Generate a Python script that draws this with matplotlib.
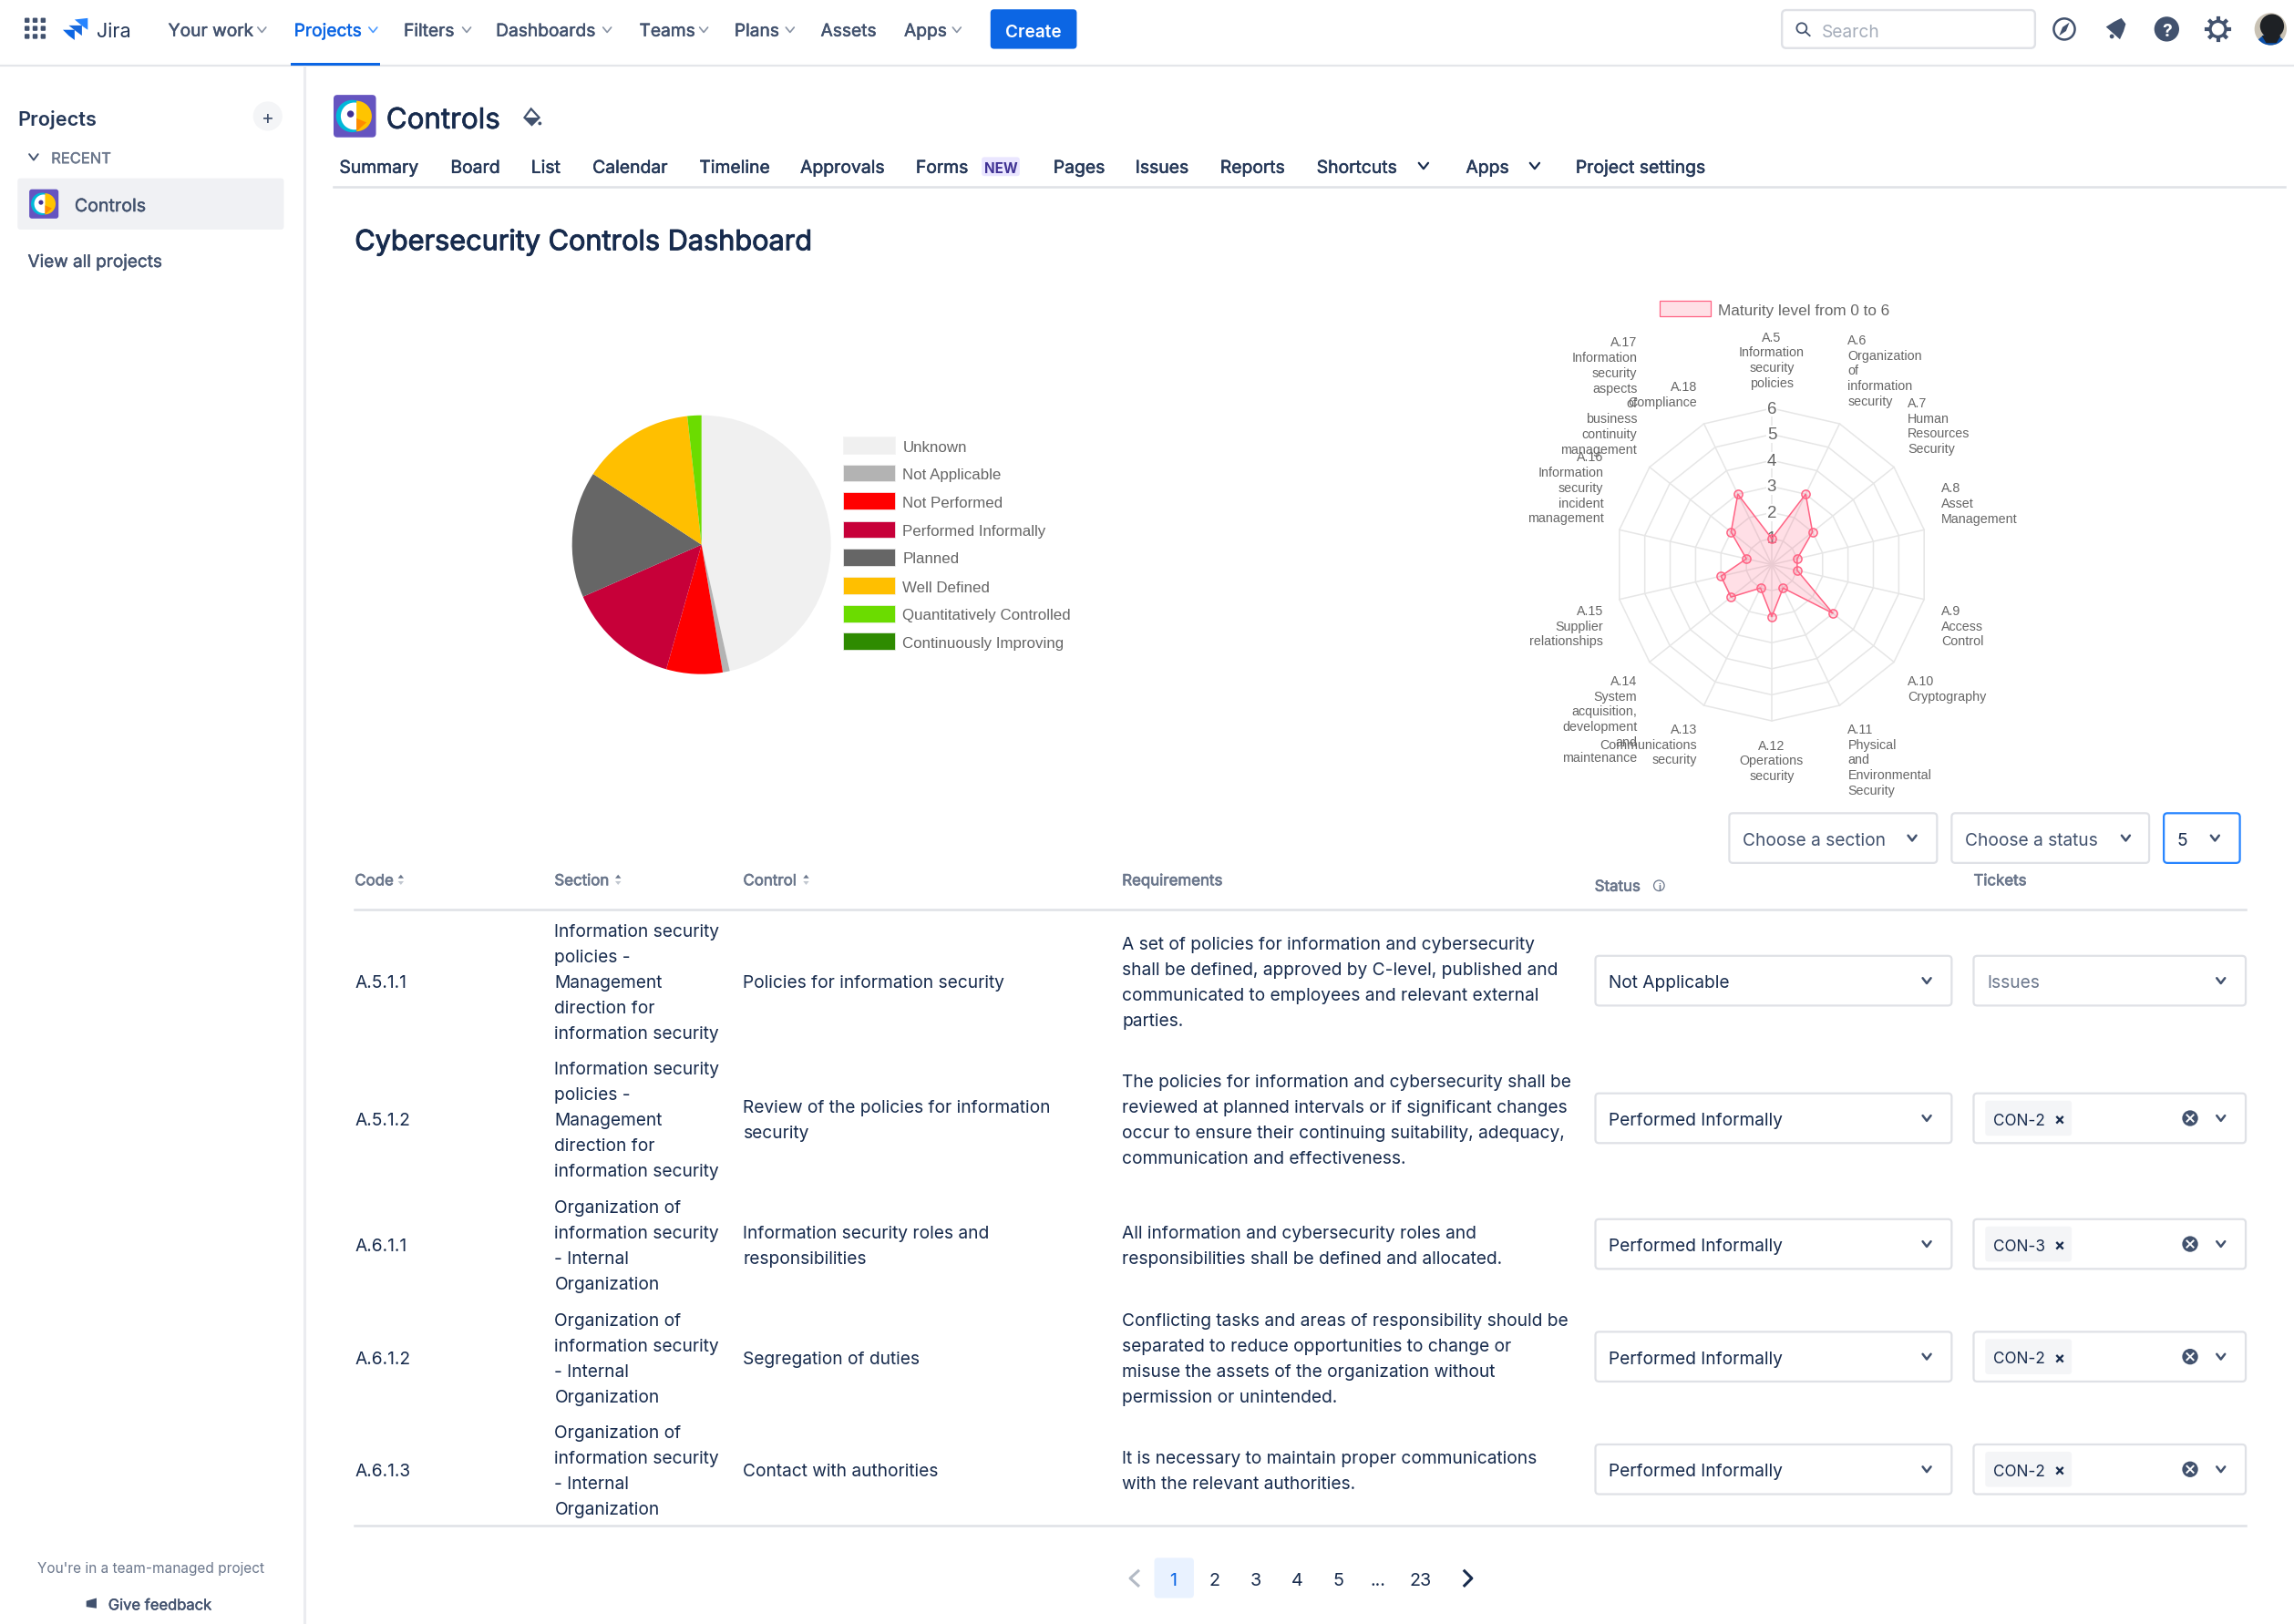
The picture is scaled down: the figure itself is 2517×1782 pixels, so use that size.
"""
Cybersecurity controls dashboard in a Jira page: pie + radar + table.
"""

import numpy as np
import matplotlib
matplotlib.use("Agg")
import matplotlib.pyplot as plt
import matplotlib.patheffects as pe
from matplotlib.patches import Circle, FancyBboxPatch, Polygon, Rectangle, Wedge

W, H = 2517, 1783
S = W / 1568  # layout below is measured on a 1568 wide copy

# pie data
status_labels = ["Unknown", "Not Applicable", "Not Performed", "Performed Informally",
                 "Planned", "Well Defined", "Quantitatively Controlled", "Continuously Improving"]
status_counts = [53, 1, 8, 16, 18, 16, 2, 0]
status_colors = ["#F0F0F0", "#B3B3B3", "#FF0000", "#C70039",
                 "#666666", "#FFBF00", "#6BDC00", "#2E8B00"]

# radar data
radar_axes = ["A.5", "A.6", "A.7", "A.8", "A.9", "A.10", "A.11",
              "A.12", "A.13", "A.14", "A.15", "A.16", "A.17", "A.18"]
radar_values = [1, 3, 2, 1, 1, 3, 1, 2, 1, 2, 2, 1, 2, 3]
radar_ticks = [1, 2, 3, 4, 5, 6]

# table data
codes = ["A.5.1.1", "A.5.1.2", "A.6.1.1", "A.6.1.2", "A.6.1.3"]
sections = [
    "Information security\npolicies -\nManagement\ndirection for\ninformation security",
    "Information security\npolicies -\nManagement\ndirection for\ninformation security",
    "Organization of\ninformation security\n- Internal\nOrganization",
    "Organization of\ninformation security\n- Internal\nOrganization",
    "Organization of\ninformation security\n- Internal\nOrganization",
]
controls = [
    "Policies for information security",
    "Review of the policies for information\nsecurity",
    "Information security roles and\nresponsibilities",
    "Segregation of duties",
    "Contact with authorities",
]
requirements = [
    "A set of policies for information and cybersecurity\nshall be defined, approved by C-level, published and\ncommunicated to employees and relevant external\nparties.",
    "The policies for information and cybersecurity shall be\nreviewed at planned intervals or if significant changes\noccur to ensure their continuing suitability, adequacy,\ncommunication and effectiveness.",
    "All information and cybersecurity roles and\nresponsibilities shall be defined and allocated.",
    "Conflicting tasks and areas of responsibility should be\nseparated to reduce opportunities to change or\nmisuse the assets of the organization without\npermission or unintended.",
    "It is necessary to maintain proper communications\nwith the relevant authorities.",
]
row_status = ["Not Applicable", "Performed Informally", "Performed Informally",
              "Performed Informally", "Performed Informally"]
row_tickets = [None, "CON-2", "CON-3", "CON-2", "CON-2"]
row_y = [671, 765, 851, 928, 1005]

nav_items = ["Your work", "Projects", "Filters", "Dashboards", "Teams", "Plans", "Assets", "Apps"]
nav_x = [115, 201, 276, 339, 437, 502, 561, 618]
nav_chevron = [179, 255, 319, 415, 481, 540, None, 654]
tab_items = ["Summary", "Board", "List", "Calendar", "Timeline", "Approvals", "Forms", "Pages",
             "Issues", "Reports", "Shortcuts", "Apps", "Project settings"]
tab_x = [232, 308, 363, 405, 478, 547, 626, 720, 776, 834, 900, 1002, 1077]
page_labels = ["1", "2", "3", "4", "5", "...", "23"]
page_x = [802, 830, 858, 886.5, 915, 942, 971]

NAVY = "#172B4D"
SLATE = "#42526E"
GREY = "#6B778C"
BLUE = "#0C66E4"
LINE = "#DFE1E6"
CHART_TEXT = "#666666"
RADAR = "#FF6384"
BODY = 11.95

plt.rcParams["font.family"] = ["Inter", "DejaVu Sans"]


def fs(px):
    # font size from height in the 1568 layout
    return px * S * 72 / 100


def txt(x, y, s, size=BODY, color=NAVY, ha="left", weight="normal", heavy=0, **kw):
    t = ax.text(x, y, s, fontsize=fs(size), color=color, ha=ha, va="center_baseline",
                fontweight=weight, **kw)
    if heavy:
        # Inter has no medium cut here, thicken the regular one a little
        t.set_path_effects([pe.withStroke(linewidth=heavy, foreground=color)])
    return t


def lines(x, y, s, step=17.5, **kw):
    # block of lines centred on y
    parts = s.split("\n")
    top = y - step * (len(parts) - 1) / 2
    for i, part in enumerate(parts):
        txt(x, top + i * step, part, **kw)


def chevron(x, y, w=3.2, h=2.2, color=SLATE, lw=1.6):
    ax.plot([x - w, x, x + w], [y - h, y + h, y - h], color=color, lw=lw,
            solid_capstyle="round", solid_joinstyle="round")


def box(x0, y0, x1, y1, face="white", edge=LINE, lw=1.6, r=2.5, z=2):
    ax.add_patch(FancyBboxPatch((x0, y0), x1 - x0, y1 - y0, boxstyle=f"round,pad=0,rounding_size={r}",
                                fc=face, ec=edge, lw=lw, zorder=z))


def select(x0, x1, yc, label, chev_x, color=NAVY, edge=LINE, half=17, pad=9):
    box(x0, yc - half, x1, yc + half, edge=edge)
    if label:
        txt(x0 + pad, yc, label, color=color, zorder=3)
    chevron(chev_x, yc, w=2.8, h=1.8, color=SLATE, lw=1.8)


def parrot(cx, cy, size):
    r = size / 2
    box(cx - r, cy - r, cx + r, cy + r, face="#6554C0", edge="#6554C0", lw=0, r=size * 0.09, z=4)
    ax.add_patch(Circle((cx - r * 0.12, cy), r * 0.76, fc="#00B8D9", ec="none", zorder=5))
    ax.add_patch(Circle((cx - r * 0.02, cy), r * 0.64, fc="white", ec="none", zorder=6))
    ax.add_patch(Wedge((cx + r * 0.08, cy), r * 0.72, -90, 90, fc="#FFC400", ec="none", zorder=7))
    ax.add_patch(Polygon([[cx + r * 0.08, cy + r * 0.72], [cx + r * 0.08, cy + r * 0.1],
                          [cx + r * 0.55, cy + r * 0.3]], fc="#FF8B00", ec="none", zorder=8))
    ax.add_patch(Circle((cx - r * 0.2, cy - r * 0.1), r * 0.16, fc="#403294", ec="none", zorder=8))


fig = plt.figure(figsize=(W / 100, H / 100), dpi=100, facecolor="white")
ax = fig.add_axes([0, 0, 1, 1])
ax.set_xlim(0, 1568)
ax.set_ylim(H / S, 0)
ax.axis("off")

# ---- top bar
ax.plot([0, 1568], [45.5, 45.5], color="#E4E6EA", lw=1.6)
ax.plot([208, 208], [45, H / S], color="#EBECF0", lw=2.2)
ax.add_patch(Rectangle((199, 43.3), 61, 2.2, fc=BLUE, ec="none", zorder=3))
for gx in (18.5, 24, 29.5):
    for gy in (14.5, 20, 25.5):
        ax.add_patch(FancyBboxPatch((gx - 1.7, gy - 1.7), 3.4, 3.4, boxstyle="round,pad=0,rounding_size=0.7",
                                    fc=SLATE, ec="none"))
ax.add_patch(Polygon([[51, 14], [60, 13], [60, 21], [57, 19]], fc="#2684FF", ec="none"))
ax.add_patch(Polygon([[47, 18], [56, 18], [56, 25], [52, 22]], fc="#1868DB", ec="none"))
ax.add_patch(Polygon([[43, 21], [51, 21], [51, 28], [47, 25]], fc="#0C66E4", ec="none"))
txt(66, 20.5, "Jira", size=13.5, color="#253858")
for label, x, cx in zip(nav_items, nav_x, nav_chevron):
    col = BLUE if label == "Projects" else SLATE
    txt(x, 21, label, color=col, heavy=0.35)
    if cx:
        chevron(cx, 21, w=2.8, h=1.7, color=("#4C9AFF" if label == "Projects" else "#8993A4"), lw=1.2)
box(677, 7, 736, 34, face=BLUE, edge=BLUE, lw=0, r=2.5)
txt(706.5, 21, "Create", size=11.8, color="white", ha="center", weight="semibold", zorder=3)

box(1218, 7.5, 1391, 33.5, edge="#DFE1E6", lw=1.7, r=3)
ax.add_patch(Circle((1231.5, 19.8), 3.4, fc="none", ec=SLATE, lw=1.3, zorder=3))
ax.plot([1234, 1237], [22.3, 25], color=SLATE, lw=1.3, zorder=3)
txt(1245, 21, "Search", color="#A5ADBA", zorder=3)

# compass
ax.add_patch(Circle((1411, 20.5), 7.2, fc="none", ec=SLATE, lw=1.8))
ax.add_patch(Polygon([[1414.5, 16], [1412.2, 21.8], [1407.5, 25], [1409.8, 19.2]], fc=SLATE, ec="none"))
# bell
ax.add_patch(Polygon([[1439.5, 19], [1445, 15.5], [1450, 13], [1453, 17], [1451.5, 22], [1449, 27.5]],
                     fc=SLATE, ec="none"))
ax.add_patch(Circle((1443.5, 25.5), 1.5, fc=SLATE, ec="none"))
# help
ax.add_patch(Circle((1481, 20.5), 8.5, fc=SLATE, ec="none"))
txt(1481, 20.5, "?", size=12, color="white", ha="center", weight="bold", zorder=3)
# gear
for a in np.arange(0, 180, 45):
    dx, dy = 7.6 * np.cos(np.radians(a)), 7.6 * np.sin(np.radians(a))
    ax.plot([1516 - dx, 1516 + dx], [20.5 - dy, 20.5 + dy], color=SLATE, lw=3)
ax.add_patch(Circle((1516, 20.5), 5.3, fc="white", ec=SLATE, lw=2.4, zorder=3))
# avatar
ax.add_patch(Circle((1552, 20.5), 11, fc="#C9C2B4", ec="none"))
ax.add_patch(Wedge((1552, 20.5), 11, 40, 140, fc="#0B4FA8", ec="none"))
ax.add_patch(Circle((1553, 18.5), 8.2, fc="#1E2125", ec="none"))
ax.add_patch(Polygon([[1546, 25], [1559, 25], [1556, 30], [1549, 30]], fc="#1E2125", ec="none"))

# ---- sidebar
txt(12, 80.5, "Projects", size=13.5, weight="semibold", color="#253858")
ax.add_patch(Circle((183, 80), 10, fc="#F4F5F7", ec="none"))
txt(183, 80, "+", size=13, color=SLATE, ha="center", zorder=3)
chevron(23, 108, w=3, h=2, color=SLATE, lw=1.4)
txt(35, 108.5, "RECENT", size=10.3, color=GREY, heavy=0.3)
box(12, 122.5, 194, 157.5, face="#F0F1F4", edge="#F0F1F4", lw=0, r=2)
parrot(30, 140, 20)
txt(51, 140.8, "Controls", size=12.2, color=SLATE, zorder=3, heavy=0.3)
txt(19, 178.8, "View all projects", size=11.8, color=SLATE, heavy=0.3)
txt(103, 1071.5, "You're in a team-managed project", size=9.6, color=GREY, ha="center")
txt(74, 1097.3, "Give feedback", size=10.3, color=SLATE, heavy=0.3)
ax.add_patch(Polygon([[59, 1095], [66, 1093], [66, 1100], [59, 1099]], fc=SLATE, ec="none"))

# ---- project header
parrot(242.5, 80, 29)
txt(264, 81.5, "Controls", size=19.5, heavy=0.5)
ax.add_patch(Polygon([[363, 75], [368.5, 81], [363.5, 86], [358.5, 81]], fc="white", ec=SLATE, lw=1.6))
ax.add_patch(Polygon([[358.5, 81], [368.5, 81], [363.5, 86]], fc=SLATE, ec="none"))
ax.add_patch(Circle((369, 85), 1.2, fc=SLATE, ec="none"))
for label, x in zip(tab_items, tab_x):
    txt(x, 114.5, label, size=12.05, color="#253858", heavy=0.35)
box(671, 108, 697, 121, face="#EAE6FF", edge="#EAE6FF", lw=0, r=2)
txt(684, 114.5, "NEW", size=9.5, color="#403294", ha="center", weight="bold", zorder=3)
chevron(973, 114, w=3.2, h=2, color=NAVY, lw=1.6)
chevron(1049, 114, w=3.2, h=2, color=NAVY, lw=1.6)
ax.plot([228, 1562], [128.5, 128.5], color=LINE, lw=1.8)
txt(242.5, 164.5, "Cybersecurity Controls Dashboard", size=19.1, heavy=0.7)

# ---- pie chart
pie_ax = fig.add_axes([(769.7 - 142) / W, 1 - (598.7 + 142) / H, 284 / W, 284 / H])
pie_ax.pie(status_counts, colors=status_colors, startangle=90, counterclock=False, radius=1,
           wedgeprops={"linewidth": 0})
pie_ax.set_xlim(-1, 1)
pie_ax.set_ylim(-1, 1)
pie_ax.patch.set_alpha(0)

legend_y = [305, 324, 343, 362.5, 381.5, 401, 420, 439]
for label, col, y in zip(status_labels, status_colors, legend_y):
    ax.add_patch(Rectangle((576, y - 5.8), 35.5, 11.6, fc=col, ec="#F3F3F3", lw=0.5))
    ax.text(617, y, label, fontsize=fs(10.55), color=CHART_TEXT, va="center_baseline",
            family="Liberation Sans")

# ---- radar chart
RAD = 171.5
radar_ax = fig.add_axes([(1944 - RAD) / W, 1 - (620.5 + RAD) / H, 2 * RAD / W, 2 * RAD / H], polar=True)
radar_ax.set_theta_zero_location("N")
radar_ax.set_theta_direction(-1)
radar_ax.set_ylim(0, 6)
radar_ax.axis("off")
radar_ax.patch.set_alpha(0)
angles = 2 * np.pi * np.arange(len(radar_axes)) / len(radar_axes)
closed = np.append(angles, angles[0])
for tick in radar_ticks:
    radar_ax.plot(closed, [tick] * len(closed), color="#E6E6E6", lw=1.1, zorder=1, clip_on=False)
for a in angles:
    radar_ax.plot([a, a], [0, 6], color="#E6E6E6", lw=1.1, zorder=1, clip_on=False)
for tick in radar_ticks:
    radar_ax.text(0, tick, str(tick), fontsize=fs(11.7), color=CHART_TEXT, ha="center", va="center",
                  family="Liberation Sans", zorder=2, clip_on=False,
                  bbox={"fc": "white", "ec": "none", "pad": 0.6} if tick > 1 else None)
vals = np.array(radar_values + radar_values[:1], dtype=float)
radar_ax.fill(closed, vals, color=RADAR, alpha=0.2, lw=0, zorder=3, clip_on=False)
radar_ax.plot(closed, vals, color=RADAR, lw=1.1, zorder=4, clip_on=False)
radar_ax.plot(angles, radar_values, ls="none", marker="o", ms=6.6, mfc=(1, 0.39, 0.52, 0.2),
              mec=RADAR, mew=1.1, zorder=5, clip_on=False)

ax.add_patch(Rectangle((1134.5, 206), 35, 11, fc="#FFE0E6", ec=RADAR, lw=0.9))
ax.text(1174.5, 211.5, "Maturity level from 0 to 6", fontsize=fs(10.65), color=CHART_TEXT,
        va="center_baseline", family="Liberation Sans")

radar_names = [
    "Information\nsecurity\npolicies", "Organization\nof\ninformation\nsecurity",
    "Human\nResources\nSecurity", "Asset\nManagement", "Access\nControl", "Cryptography",
    "Physical\nand\nEnvironmental\nSecurity", "Operations\nsecurity", "Communications\nsecurity",
    "System\nacquisition,\ndevelopment\nand\nmaintenance", "Supplier\nrelationships",
    "Information\nsecurity\nincident\nmanagement",
    "Information\nsecurity\naspects\nof\nbusiness\ncontinuity\nmanagement", "Compliance",
]
# anchor of every label block, first line centre
label_x = [1211, 1263, 1304, 1327, 1327, 1304, 1263, 1211, 1160, 1119, 1096, 1096, 1119, 1160]
label_y = [230, 232, 275, 333, 417, 465, 498, 509, 498, 465, 417, 312, 233.5, 264]
label_ha = ["center", "left", "left", "left", "left", "left", "left",
            "center", "right", "right", "right", "right", "right", "right"]
for name, text, x, y, ha in zip(radar_axes, radar_names, label_x, label_y, label_ha):
    for i, part in enumerate([name] + text.split("\n")):
        ax.text(x, y + i * 10.45, part, fontsize=fs(8.85), color=CHART_TEXT, ha=ha,
                va="center_baseline", family="Liberation Sans")

# ---- filters
select(1182, 1324, 573.5, "Choose a section", 1307, color=SLATE)
select(1334, 1469, 573.5, "Choose a status", 1453, color=SLATE)
select(1479, 1531, 573.5, "5", 1514, edge="#2684FF")

# ---- table header
for label, x, ax_x in zip(["Code", "Section", "Control"], [242.5, 379, 508], [274, 422.5, 551]):
    txt(x, 602, label, size=10.5, color=GREY, heavy=0.5)
    ax.add_patch(Polygon([[ax_x - 2, 601], [ax_x + 2, 601], [ax_x, 598.5]], fc=GREY, ec="none"))
    ax.add_patch(Polygon([[ax_x - 2, 603], [ax_x + 2, 603], [ax_x, 605.5]], fc="#C1C7D0", ec="none"))
txt(767, 602, "Requirements", size=10.5, color=GREY, heavy=0.5)
txt(1090, 606, "Status", size=10.5, color=GREY, heavy=0.5)
ax.add_patch(Circle((1134, 606), 3.6, fc="none", ec=GREY, lw=0.9))
txt(1134, 606, "i", size=6.5, color=GREY, ha="center", weight="bold")
txt(1349, 602, "Tickets", size=10.5, color=GREY, heavy=0.5)
ax.plot([242.5, 1535], [622.5, 622.5], color=LINE, lw=1.8)
ax.plot([242.5, 1535], [1043.5, 1043.5], color=LINE, lw=1.8)

# ---- table rows
for i, y in enumerate(row_y):
    txt(242.5, y, codes[i])
    lines(379, y, sections[i])
    lines(508, y, controls[i])
    lines(767, y, requirements[i])
    select(1090.5, 1334, y, row_status[i], 1317)
    ticket = row_tickets[i]
    if ticket is None:
        select(1349, 1535, y, "Issues", 1518, color=GREY)
    else:
        select(1349, 1535, y, "", 1518)
        box(1357, y - 12, 1416, y + 12, face="#F4F5F7", edge="#F4F5F7", lw=0, r=2, z=3)
        txt(1362.5, y, ticket, size=10.7, zorder=4)
        txt(1407.5, y, "×", size=11, zorder=4, ha="center", weight="bold")
        ax.add_patch(Circle((1497, y), 5.4, fc=SLATE, ec="none", zorder=3))
        ax.plot([1494.8, 1499.2], [y - 2.2, y + 2.2], color="white", lw=1.4, zorder=4)
        ax.plot([1494.8, 1499.2], [y + 2.2, y - 2.2], color="white", lw=1.4, zorder=4)

# ---- pagination
box(789, 1065.5, 816, 1093, face="#E9F2FF", edge="#E9F2FF", lw=0, r=2.5)
for label, x in zip(page_labels, page_x):
    col = BLUE if label == "1" else NAVY
    txt(x, 1079.5, label, size=12.3, color=col, ha="center", zorder=3)
ax.plot([778, 772.5, 778], [1074.5, 1079.5, 1084.5], color="#B3BAC5", lw=2.2)
ax.plot([1001, 1006, 1001], [1074.5, 1079.5, 1084.5], color=NAVY, lw=2.2)

fig.savefig("out.png", dpi=100, facecolor="white")
